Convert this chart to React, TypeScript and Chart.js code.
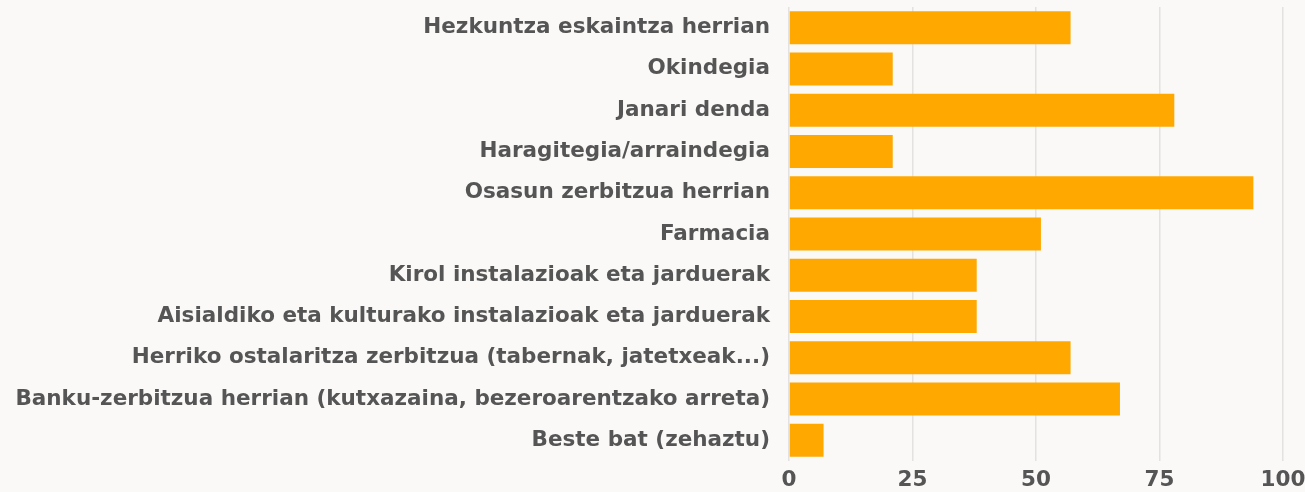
import React, { useEffect, useRef } from "react";
import { Chart, registerables } from "chart.js";

Chart.register(...registerables);

const categories: string[] = [
  "Hezkuntza eskaintza herrian",
  "Okindegia",
  "Janari denda",
  "Haragitegia/arraindegia",
  "Osasun zerbitzua herrian",
  "Farmacia",
  "Kirol instalazioak eta jarduerak",
  "Aisialdiko eta kulturako instalazioak eta jarduerak",
  "Herriko ostalaritza zerbitzua (tabernak, jatetxeak...)",
  "Banku-zerbitzua herrian (kutxazaina, bezeroarentzako arreta)",
  "Beste bat (zehaztu)",
];

const values: number[] = [57, 21, 78, 21, 94, 51, 38, 38, 57, 67, 7];

const xTicks: number[] = [0, 25, 50, 75, 100];

const BAR_COLOR = "#FFA800";
const TEXT_COLOR = "#555555";
const GRID_COLOR = "#e3e2e0";
const BG_COLOR = "#faf9f8";
const FONT_FAMILY = "'DejaVu Sans', 'Open Sans', sans-serif";

export default function App() {
  const canvasRef = useRef<HTMLCanvasElement | null>(null);

  useEffect(() => {
    document.body.style.margin = "0";
    document.body.style.background = BG_COLOR;
    const canvas = canvasRef.current;
    if (!canvas) return;

    const chart = new Chart(canvas, {
      type: "bar",
      data: {
        labels: categories,
        datasets: [
          {
            data: values,
            backgroundColor: BAR_COLOR,
            borderWidth: 0,
            categoryPercentage: 1,
            barPercentage: 0.8,
          },
        ],
      },
      options: {
        indexAxis: "y",
        animation: false,
        responsive: false,
        maintainAspectRatio: false,
        layout: { padding: { top: 7, right: 22, bottom: 0, left: 0 } },
        plugins: {
          legend: { display: false },
          tooltip: { enabled: false },
        },
        scales: {
          x: {
            type: "linear",
            min: 0,
            max: 100,
            afterBuildTicks: (axis: any) => {
              axis.ticks = xTicks.map((v) => ({ value: v }));
            },
            afterFit: (axis: any) => {
              axis.height = 31;
              axis.paddingLeft = 0;
              axis.paddingRight = 0;
            },
            border: { display: false },
            grid: {
              color: GRID_COLOR,
              lineWidth: 1.5,
              drawTicks: false,
            },
            ticks: {
              padding: 7,
              color: TEXT_COLOR,
              font: { family: FONT_FAMILY, size: 21.5, weight: "bold" },
            },
          },
          y: {
            afterFit: (axis: any) => {
              axis.width = 789;
              axis.paddingTop = 0;
              axis.paddingBottom = 0;
            },
            border: { display: false },
            grid: { display: false, drawTicks: false },
            ticks: {
              padding: 19,
              autoSkip: false,
              color: TEXT_COLOR,
              font: { family: FONT_FAMILY, size: 21.5, weight: "bold" },
            },
          },
        },
      },
    });

    return () => chart.destroy();
  }, []);

  return (
    <div style={{ width: 1305, height: 492, background: BG_COLOR }}>
      <canvas ref={canvasRef} width={1305} height={492} />
    </div>
  );
}
